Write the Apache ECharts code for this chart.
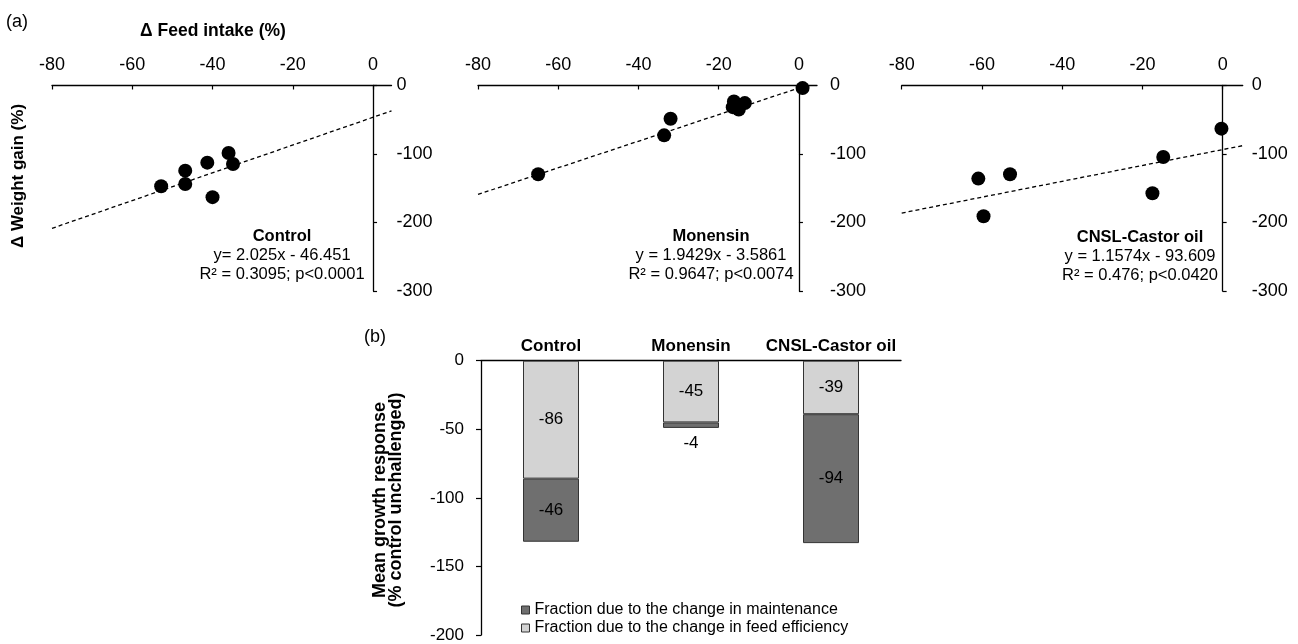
<!DOCTYPE html>
<html>
<head>
<meta charset="utf-8">
<script src="https://cdn.jsdelivr.net/npm/echarts@6/dist/echarts.min.js"></script>
<style>
html,body{margin:0;padding:0;background:#fff;}
#chart{width:1298px;height:644px;}
</style>
</head>
<body>
<div id="chart"></div>
<script>
// ---------- Data: panel (a) ----------
const feedControl   = [-52.8, -46.8, -46.8, -41.3, -36.0, -34.9, -40.0];
const weightControl = [-147, -143.7, -124.3, -112.6, -98.6, -114.6, -163];
const trendControl  = [[-80, -208.5], [4.6, -37.1]];

const feedMonensin   = [0.9, -16.2, -13.5, -16.5, -15.0, -32.0, -33.6, -65.0];
const weightMonensin = [-3.8, -23.3, -25.7, -31.6, -35.0, -48.5, -72.8, -129.6];
const trendMonensin  = [[-80, -159.0], [0, -3.6]];

const feedCnsl   = [-0.3, -14.8, -17.5, -53.0, -60.9, -59.6];
const weightCnsl = [-63, -104.4, -157.3, -129.6, -135.9, -190.8];
const trendCnsl  = [[-80, -186.2], [5, -87.8]];

const xTickValues = [-80, -60, -40, -20, 0];
const panelNames = ['Control', 'Monensin', 'CNSL-Castor oil'];
const panelEq = ['y= 2.025x - 46.451', 'y = 1.9429x - 3.5861', 'y = 1.1574x - 93.609'];
const panelR2 = ['R\u00B2 = 0.3095; p<0.0001', 'R\u00B2 = 0.9647; p<0.0074', 'R\u00B2 = 0.476; p<0.0420'];

// ---------- Data: panel (b) ----------
const barCategories = ['Control', 'Monensin', 'CNSL-Castor oil'];
const feedEfficiencyFraction = [-86, -45, -39];
const maintenanceFraction = [-46, -4, -94];
const nameMaint = 'Fraction due to the change in maintenance';
const nameFeed = 'Fraction due to the change in feed efficiency';

// ---------- Layout ----------
const FONT = '"Liberation Sans", Arial, Helvetica, sans-serif';
const panels = [
  {left: 52,    width: 339.5, xmax: 4.6, margin: 5,  feed: feedControl,  weight: weightControl,  trend: trendControl, tx: 282, ty: 236},
  {left: 478,   width: 339,   xmax: 4.5, margin: 13, feed: feedMonensin, weight: weightMonensin, trend: trendMonensin, tx: 711, ty: 236},
  {left: 901.7, width: 341,   xmax: 5,   margin: 9,  feed: feedCnsl,     weight: weightCnsl,     trend: trendCnsl, tx: 1140, ty: 237}
];

const grid = [], xAxis = [], yAxis = [], series = [], graphic = [];
const axisLineStyle = {color: '#000', width: 1.3};

panels.forEach((p, i) => {
  grid.push({left: p.left, top: 85.5, width: p.width, height: 205.5, outerBoundsMode: 'none', containLabel: false});
  xAxis.push({
    type: 'value', gridIndex: i, position: 'top', min: -80, max: p.xmax, interval: 20,
    axisLine: {show: true, onZero: false, lineStyle: axisLineStyle},
    axisTick: {show: true, inside: true, length: 4, customValues: xTickValues, lineStyle: {color: '#000', width: 1.2}},
    axisLabel: {show: true, customValues: xTickValues, fontSize: 18, color: '#000', margin: 11, fontFamily: FONT},
    splitLine: {show: false}
  });
  yAxis.push({
    type: 'value', gridIndex: i, position: 'right', min: -300, max: 0, interval: 100,
    axisLine: {show: true, onZero: true, lineStyle: axisLineStyle},
    axisTick: {show: true, inside: false, length: 4, lineStyle: {color: '#000', width: 1.2}},
    axisLabel: {show: true, fontSize: 18, color: '#000', margin: p.margin, fontFamily: FONT},
    splitLine: {show: false}
  });
  series.push({
    type: 'line', xAxisIndex: i, yAxisIndex: i, data: p.trend, symbol: 'none', silent: true,
    lineStyle: {color: '#000', width: 1.3, type: [4, 3]}, z: 2, clip: false
  });
  series.push({
    type: 'scatter', xAxisIndex: i, yAxisIndex: i,
    data: p.feed.map((v, k) => [v, p.weight[k]]),
    symbol: 'circle', symbolSize: 14, itemStyle: {color: '#000', opacity: 1}, z: 3, clip: false
  });
  graphic.push({type: 'text', x: p.tx, y: p.ty, style: {text: panelNames[i], font: 'bold 16.5px ' + FONT, fill: '#000', textAlign: 'center', align: 'center', textVerticalAlign: 'middle', verticalAlign: 'middle'}});
  graphic.push({type: 'text', x: p.tx, y: p.ty + 19, style: {text: panelEq[i], font: '16.5px ' + FONT, fill: '#000', textAlign: 'center', align: 'center', textVerticalAlign: 'middle', verticalAlign: 'middle'}});
  graphic.push({type: 'text', x: p.tx, y: p.ty + 38, style: {text: panelR2[i], font: '16.5px ' + FONT, fill: '#000', textAlign: 'center', align: 'center', textVerticalAlign: 'middle', verticalAlign: 'middle'}});
});

// Titles of panel (a)
graphic.push({type: 'text', x: 6, y: 22, style: {text: '(a)', font: '18px ' + FONT, fill: '#000', textAlign: 'left', align: 'left', textVerticalAlign: 'middle', verticalAlign: 'middle'}});
graphic.push({type: 'text', x: 213, y: 31, style: {text: '\u0394 Feed intake (%)', font: 'bold 17.5px ' + FONT, fill: '#000', textAlign: 'center', align: 'center', textVerticalAlign: 'middle', verticalAlign: 'middle'}});
graphic.push({type: 'text', x: 18, y: 176, rotation: Math.PI / 2, style: {text: '\u0394 Weight gain (%)', font: 'bold 17px ' + FONT, fill: '#000', textAlign: 'center', align: 'center', textVerticalAlign: 'middle', verticalAlign: 'middle'}});

// ---------- Panel (b) ----------
grid.push({left: 481, top: 360.7, width: 420, height: 274.3, outerBoundsMode: 'none', containLabel: false});
xAxis.push({
  type: 'category', gridIndex: 3, position: 'top', data: barCategories,
  axisLine: {show: true, onZero: false, lineStyle: axisLineStyle},
  axisTick: {show: false},
  axisLabel: {show: true, fontSize: 17, fontWeight: 'bold', color: '#000', margin: 6, fontFamily: FONT, interval: 0},
  splitLine: {show: false}
});
yAxis.push({
  type: 'value', gridIndex: 3, position: 'left', min: -200, max: 0, interval: 50,
  axisLine: {show: true, onZero: false, lineStyle: axisLineStyle},
  axisTick: {show: true, inside: false, length: 5, lineStyle: {color: '#000', width: 1.2}},
  axisLabel: {show: true, fontSize: 17, color: '#000', margin: 17, fontFamily: FONT},
  splitLine: {show: false}
});
const barLabel = {show: true, position: 'inside', fontSize: 17, color: '#000', fontFamily: FONT};
series.push({
  name: nameFeed, type: 'bar', xAxisIndex: 3, yAxisIndex: 3, stack: 'total', barWidth: '40%',
  data: feedEfficiencyFraction,
  itemStyle: {color: '#d3d3d3', borderColor: '#333', borderWidth: 1},
  label: barLabel
});
series.push({
  name: nameMaint, type: 'bar', xAxisIndex: 3, yAxisIndex: 3, stack: 'total', barWidth: '40%',
  data: maintenanceFraction.map((v, k) => k === 1 ? {value: v, label: {position: 'bottom', distance: 7}} : v),
  itemStyle: {color: '#6f6f6f', borderColor: '#333', borderWidth: 1},
  label: barLabel
});

graphic.push({type: 'text', x: 364, y: 337, style: {text: '(b)', font: '18px ' + FONT, fill: '#000', textAlign: 'left', align: 'left', textVerticalAlign: 'middle', verticalAlign: 'middle'}});
graphic.push({type: 'text', x: 388, y: 500, rotation: Math.PI / 2, style: {text: 'Mean growth response\n(% control unchallenged)', font: 'bold 18px ' + FONT, lineHeight: 16, fill: '#000', textAlign: 'center', align: 'center', textVerticalAlign: 'middle', verticalAlign: 'middle'}});

const chart = echarts.init(document.getElementById('chart'), null, {renderer: 'canvas'});
chart.setOption({
  animation: false,
  backgroundColor: '#fff',
  textStyle: {fontFamily: FONT, color: '#000'},
  grid: grid,
  xAxis: xAxis,
  yAxis: yAxis,
  series: series,
  graphic: graphic,
  legend: {
    data: [nameMaint, nameFeed],
    orient: 'vertical', left: 521, top: 601, padding: 0,
    itemWidth: 8, itemHeight: 8, itemGap: 0, icon: 'rect',
    itemStyle: {borderColor: '#333', borderWidth: 1},
    textStyle: {fontSize: 16, color: '#000', lineHeight: 18, fontFamily: FONT},
    selectedMode: false
  }
});
</script>
</body>
</html>
